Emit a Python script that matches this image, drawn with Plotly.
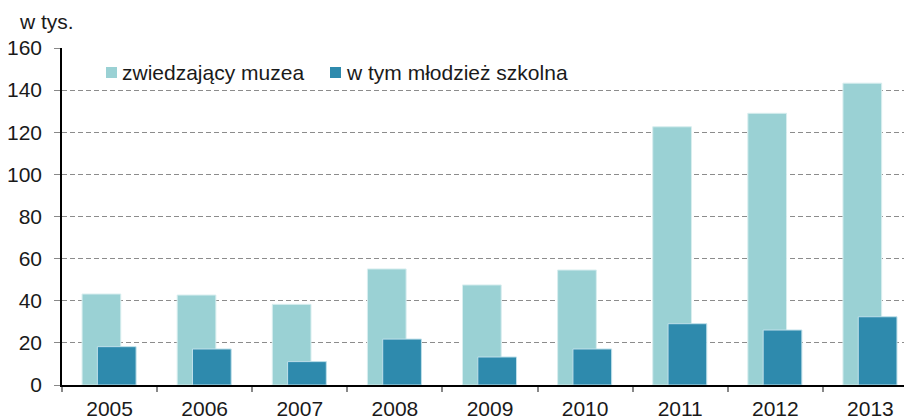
import plotly.graph_objects as go

years = ["2005", "2006", "2007", "2008", "2009", "2010", "2011", "2012", "2013"]
visitors = [43.2, 42.7, 38.3, 55.1, 47.5, 54.6, 122.6, 129.0, 143.3]
school_youth = [18.2, 17.1, 11.1, 21.8, 13.3, 17.1, 29.1, 26.1, 32.4]
y_ticks = [0, 20, 40, 60, 80, 100, 120, 140, 160]
series_names = ["zwiedzający muzea", "w tym młodzież szkolna"]

LIGHT = "#9ad1d4"
DARK = "#2e8aad"
FONT = "Liberation Sans, Arial, sans-serif"
FS = 21

# page has an 8px body margin; figure sized to fill the rest of the window
OFF = 8
W, H = 912 - OFF, 419 - OFF
ML, MR, MT, MB = 62 - OFF, 0, 48 - OFF, 34
PW, PH = W - ML - MR, H - MT - MB


def px_x(x):
    # x given in window pixels
    return (x - OFF - ML) / PW


def px_y(y):
    # y given in window pixels
    return (H - MB - (y - OFF)) / PH


fig = go.Figure()
fig.add_trace(go.Bar(
    x=years, y=visitors, name=series_names[0],
    marker=dict(color=LIGHT, line=dict(color="#d8eeef", width=1)),
    width=0.407, offset=-0.289,
))
fig.add_trace(go.Bar(
    x=years, y=school_youth, name=series_names[1],
    marker=dict(color=DARK, line=dict(color="#bfe0ea", width=1)),
    width=0.407, offset=-0.128,
))

# manual legend (squares + text)
shapes = []
annotations = []
legend_items = [(106, 120, LIGHT, series_names[0]), (330, 344, DARK, series_names[1])]
for sx, tx, col, name in legend_items:
    shapes.append(dict(
        type="rect", xref="paper", yref="paper",
        x0=px_x(sx), x1=px_x(sx + 11), y0=px_y(78), y1=px_y(67),
        fillcolor=col, line=dict(width=0), layer="above",
    ))
    annotations.append(dict(
        text=name, x=px_x(tx), y=px_y(72), xref="paper", yref="paper",
        xanchor="left", yanchor="middle", showarrow=False,
        font=dict(size=FS, family=FONT, color="#1a1a1a"),
    ))
annotations.append(dict(
    text="w tys.", x=px_x(17), y=px_y(21), xref="paper", yref="paper",
    xanchor="left", yanchor="middle", showarrow=False,
    font=dict(size=FS, family=FONT, color="#1a1a1a"),
))

fig.update_layout(
    width=W, height=H,
    margin=dict(l=ML, r=MR, t=MT, b=MB, autoexpand=False),
    paper_bgcolor="white", plot_bgcolor="white",
    barmode="overlay",
    font=dict(family=FONT, size=FS, color="#1a1a1a"),
    showlegend=False,
    shapes=shapes,
    annotations=annotations,
    xaxis=dict(
        type="category", range=[-0.5, 8.437], automargin=False,
        showline=True, linecolor="black", linewidth=1.5,
        ticks="outside", ticklen=5, tickcolor="#888888", tickwidth=1.5,
        tickson="boundaries", ticklabelstandoff=4,
        showgrid=False, zeroline=False,
        tickfont=dict(size=FS, family=FONT, color="#1a1a1a"),
    ),
    yaxis=dict(
        range=[0, 160], tickvals=y_ticks, automargin=False,
        showline=True, linecolor="black", linewidth=1.5,
        ticks="outside", ticklen=6, tickcolor="#888888", tickwidth=1,
        showgrid=True, gridcolor="#8c8c8c", griddash="5px,3px", gridwidth=1,
        zeroline=False, ticklabelstandoff=8,
        tickfont=dict(size=FS, family=FONT, color="#1a1a1a"),
    ),
)

fig.write_html("out.html")
